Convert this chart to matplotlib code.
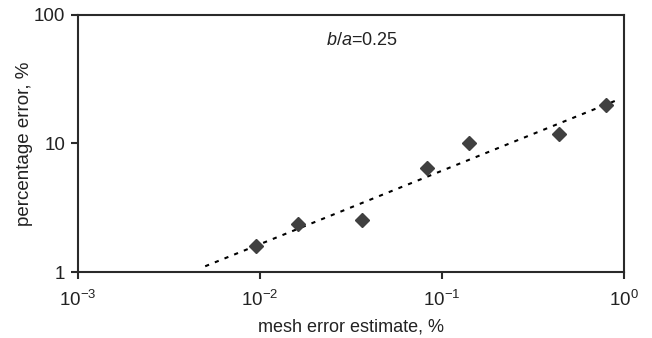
import numpy as np
import matplotlib
matplotlib.use('Agg')
import matplotlib.pyplot as plt
from matplotlib.ticker import FixedLocator, FixedFormatter

plt.rcParams['font.family'] = ['Liberation Sans', 'DejaVu Sans']
plt.rcParams['mathtext.fontset'] = 'custom'
plt.rcParams['mathtext.rm'] = 'Liberation Sans'
plt.rcParams['mathtext.it'] = 'Liberation Sans:italic'

# data
mesh_err = [0.0095, 0.0162, 0.0362, 0.083, 0.141, 0.44, 0.80]
pct_err = [1.59, 2.35, 2.54, 6.5, 10.0, 11.9, 19.9]
# power-law trend line (end points)
trend_x = [0.005, 0.95]
trend_y = [1.11, 22.2]

xticks = [1e-3, 1e-2, 1e-1, 1e0]
xticklabels = ['$10^{-3}$', '$10^{-2}$', '$10^{-1}$', '$10^{0}$']
yticks = [1, 10, 100]
yticklabels = ['1', '10', '100']

fig = plt.figure(figsize=(6.52, 3.38), dpi=100)
ax = fig.add_axes([0.1196, 0.195, 0.957 - 0.1196, 0.956 - 0.195])

ax.plot(trend_x, trend_y, color='black', lw=1.5, ls=(0, (2, 3)))
ax.plot(mesh_err, pct_err, ls='none', marker='D', ms=7, color='#404040')

ax.set_xscale('log')
ax.set_yscale('log')
ax.set_xlim(1e-3, 1)
ax.set_ylim(1, 100)
ax.xaxis.set_major_locator(FixedLocator(xticks))
ax.xaxis.set_major_formatter(FixedFormatter(xticklabels))
ax.yaxis.set_major_locator(FixedLocator(yticks))
ax.yaxis.set_major_formatter(FixedFormatter(yticklabels))
ax.minorticks_off()

for s in ax.spines.values():
    s.set_linewidth(1.5)
    s.set_color('#2a2a2a')
ax.tick_params(axis='both', direction='out', length=5, width=1.5,
               color='#2a2a2a', labelsize=13.5, labelcolor='#222222')
ax.tick_params(axis='x', pad=8)
ax.tick_params(axis='y', pad=4)

ax.set_xlabel('mesh error estimate, %', fontsize=13, color='#222222', labelpad=6)
ax.set_ylabel('percentage error, %', fontsize=13.5, color='#222222', labelpad=1)

ax.text(0.455, 0.9, '$b$/$a$=0.25', transform=ax.transAxes, fontsize=13,
        color='#222222', ha='left', va='center')

fig.savefig('out.png', dpi=100)
